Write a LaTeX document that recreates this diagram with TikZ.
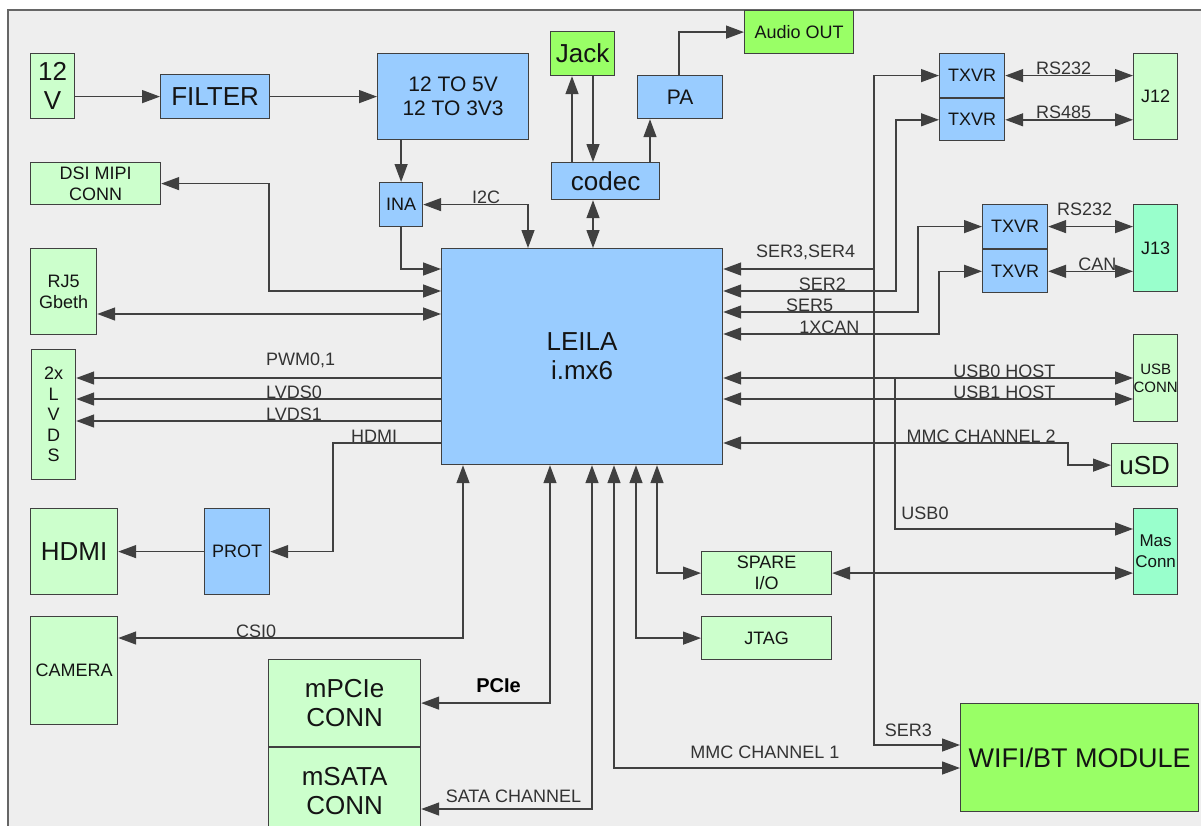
\documentclass[tikz,border=0pt]{standalone}
\usepackage{fontspec}
\setmainfont{Liberation Sans}
\usetikzlibrary{arrows.meta,positioning,calc}

\definecolor{chipblue}{HTML}{99CCFF}
\definecolor{connmint}{HTML}{CCFFCC}
\definecolor{modlime}{HTML}{99FF66}
\definecolor{conntea}{HTML}{99FFCC}
\definecolor{wirec}{HTML}{404040}
\definecolor{paper}{HTML}{EEEEEE}

\begin{document}
\begin{tikzpicture}[
  x=1pt, y=-1pt,
  box/.style={draw=wirec, line width=1.2pt, inner sep=0pt, anchor=north west,
    align=center, text=black!92, font=\fontsize{18}{21}\selectfont},
  chip/.style={box, fill=chipblue},
  conn/.style={box, fill=connmint},
  module/.style={box, fill=modlime},
  mint/.style={box, fill=conntea},
  big/.style={font=\fontsize{26}{29}\selectfont},
  mid/.style={font=\fontsize{21}{24}\selectfont},
  wire/.style={draw=wirec, line width=1.4pt},
  oneway/.style={wire, -{Triangle[length=18pt,width=13pt]}},
  twoway/.style={wire, {Triangle[length=18pt,width=13pt]}-{Triangle[length=18pt,width=13pt]}},
  sig/.style={font=\fontsize{18}{18}\selectfont, text=black!80, inner sep=0pt, anchor=south}
]
\useasboundingbox (0,0) rectangle (1201,825);
\fill[paper] (8,10) rectangle (1230,840);
\draw[wirec!80, line width=1.5pt] (8,840) -- (8,10) -- (1230,10);

\node[conn, big, minimum width=44, minimum height=65] (v12) at (30,53) {12\\V};
\node[chip, big, minimum width=109, minimum height=44] (filter) at (160,74) {FILTER};
\node[chip, mid, minimum width=151, minimum height=86] (conv) at (377,53) {12 TO 5V\\12 TO 3V3};
\node[module, big, minimum width=64, minimum height=44] (jack) at (550,31) {Jack};
\node[module, minimum width=109, minimum height=43] (audio) at (744,10) {Audio OUT};
\node[chip, mid, minimum width=85, minimum height=43] (pa) at (637,75) {PA};
\node[chip, big, minimum width=108, minimum height=37] (codec) at (551,162) {codec};
\node[conn, minimum width=130, minimum height=42] (dsi) at (30,162) {DSI MIPI\\CONN};
\node[chip, minimum width=43, minimum height=44] (ina) at (379,182) {INA};
\node[conn, minimum width=66, minimum height=86] (rj5) at (30,248) {RJ5\\Gbeth};
\node[chip, big, minimum width=281, minimum height=216] (leila) at (441,248) {LEILA\\i.mx6};
\node[conn, font=\fontsize{18}{20.5}\selectfont, minimum width=44, minimum height=130] (lvds) at (31,349) {2x\\L\\V\\D\\S};
\node[conn, big, minimum width=87, minimum height=86] (hdmi) at (30,508) {HDMI};
\node[chip, minimum width=65, minimum height=86] (prot) at (204,508) {PROT};
\node[conn, minimum width=87, minimum height=108] (camera) at (30,616) {CAMERA};
\node[conn, big, minimum width=152, minimum height=87] (mpcie) at (268,659) {mPCIe\\CONN};
\node[conn, big, minimum width=152, minimum height=87, below=0pt of mpcie] (msata) {mSATA\\CONN};
\node[conn, minimum width=130, minimum height=43] (spare) at (701,551) {SPARE\\I/O};
\node[conn, minimum width=130, minimum height=43] (jtag) at (701,616) {JTAG};
\node[chip, minimum width=65, minimum height=44] (txa) at (939,53) {TXVR};
\node[chip, minimum width=65, minimum height=42, below=0pt of txa] (txb) {TXVR};
\node[conn, minimum width=44, minimum height=86] (j12) at (1133,53) {J12};
\node[chip, minimum width=65, minimum height=44] (txc) at (982,204) {TXVR};
\node[chip, minimum width=65, minimum height=43, below=0pt of txc] (txd) {TXVR};
\node[mint, minimum width=44, minimum height=87] (j13) at (1133,204) {J13};
\node[conn, font=\fontsize{15}{18}\selectfont, minimum width=44, minimum height=87] (usb) at (1133,334) {USB\\CONN};
\node[conn, big, minimum width=66, minimum height=43] (usd) at (1111,443) {uSD};
\node[mint, font=\fontsize{17}{21}\selectfont, minimum width=44, minimum height=86] (mas) at (1133,508) {Mas\\Conn};
\node[module, font=\fontsize{27}{30}\selectfont, minimum width=238, minimum height=108] (wifi) at (960,703) {WIFI/BT MODULE};

\coordinate (ser3) at (874,269);
\coordinate (usbtap) at (895,378);

\draw[oneway] (filter.west -| v12.east) -- (filter.west);
\draw[oneway] (filter.east) -- (filter.east -| conv.west);
\draw[oneway] (ina.north |- conv.south) -- (ina.north);
\draw[twoway] (ina.east) -| (528,0 |- leila.north) node[sig, pos=0.3] {I2C};
\draw[oneway] (ina.south) |- (leila.west |- 0,269);
\draw[twoway] (dsi.east) -| (269,291) -- (leila.west |- 0,291);
\draw[twoway] (rj5.east |- 0,314) -- (leila.west |- 0,314);
\draw[oneway] (leila.west |- 0,378) -- (lvds.east |- 0,378)
  node[sig, anchor=south west, pos=0.481, yshift=10] {PWM0,1};
\foreach \yy/\txt in {399/LVDS0,421/LVDS1}
  \draw[oneway] (leila.west |- 0,\yy) -- (lvds.east |- 0,\yy)
    node[sig, anchor=south west, pos=0.481] {\txt};
\draw[oneway] (leila.west |- 0,443) -| (333,0 |- prot.east) node[sig, pos=0.31] {HDMI} -- (prot.east);
\draw[oneway] (prot.west) -- (hdmi.east);

\draw[oneway] (572,0 |- codec.north) -- (572,0 |- jack.south);
\draw[oneway] (593,0 |- jack.south) -- (593,0 |- codec.north);
\draw[twoway] (593,0 |- codec.south) -- (593,0 |- leila.north);
\draw[oneway] (650,0 |- codec.north) -- (650,0 |- pa.south);
\draw[oneway] (679,0 |- pa.north) |- (audio.west);

\draw[twoway] (463,0 |- leila.south) |- (camera.east |- 0,638) node[sig, pos=0.8] {CSI0};
\draw[twoway] (550,0 |- leila.south) |- (mpcie.east)
  node[sig, pos=0.7, yshift=10, font=\fontsize{20}{20}\selectfont\bfseries, text=black] {PCIe};
\draw[twoway] (592,0 |- leila.south) |- (msata.east |- 0,809) node[sig, pos=0.73, yshift=6] {SATA CHANNEL};
\draw[twoway] (614,0 |- leila.south) |- (wifi.west |- 0,768) node[sig, pos=0.718, yshift=9] {MMC CHANNEL 1};
\draw[twoway] (636,0 |- leila.south) |- (jtag.west);
\draw[twoway] (657,0 |- leila.south) |- (spare.west);

\draw[oneway] (ser3) |- (txa.west);
\draw[oneway] (ser3) -- (leila.east |- ser3) node[sig, pos=0.454, yshift=9] {SER3,SER4};
\draw[oneway] (ser3) |- (wifi.west |- 0,745) node[sig, pos=0.7, yshift=8] {SER3};
\draw[twoway] (leila.east |- 0,291) -| (896,0 |- txb.west) node[sig, pos=0.287] {SER2} -- (txb.west);
\draw[twoway] (leila.east |- 0,312) -| (918,0 |- txc.west) node[sig, pos=0.222] {SER5} -- (txc.west);
\draw[twoway] (leila.east |- 0,334) -| (939,0 |- txd.west) node[sig, pos=0.246] {1XCAN} -- (txd.west);

\draw[twoway] (txa.east) -- (txa.east -| j12.west) node[sig, pos=0.457] {RS232};
\draw[twoway] (txb.east) -- (txb.east -| j12.west) node[sig, pos=0.457] {RS485};
\draw[twoway] (txc.east) -- (txc.east -| j13.west) node[sig, pos=0.43, yshift=10] {RS232};
\draw[twoway] (txd.east) -- (txd.east -| j13.west) node[sig, pos=0.58] {CAN};

\foreach \yy/\txt in {378/USB0 HOST,399/USB1 HOST}
  \draw[twoway] (leila.east |- 0,\yy) -- (usb.west |- 0,\yy) node[sig, pos=0.686] {\txt};
\draw[oneway] (usbtap) |- (mas.west |- 0,529) node[sig, pos=0.563, yshift=9] {USB0};
\draw[twoway] (leila.east |- 0,443) -| (1068,0 |- usd.west) node[sig, pos=0.374] {MMC CHANNEL 2} -- (usd.west);
\draw[twoway] (spare.east) -- (spare.east -| mas.west);
\end{tikzpicture}
\end{document}
